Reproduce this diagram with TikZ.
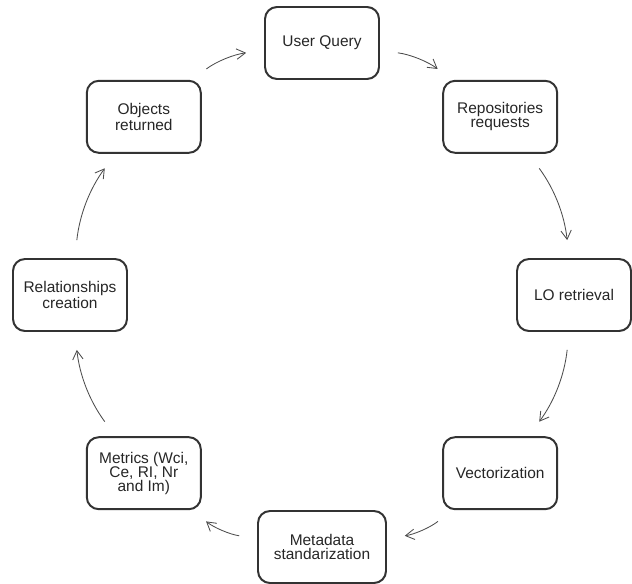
\documentclass[tikz,border=0pt]{standalone}
\usepackage{fontspec}
\setmainfont{Liberation Sans}
\usetikzlibrary{arrows.meta}

\begin{document}
\begin{tikzpicture}[
        stage/.style={draw=black!80, line width=1.4pt, rounded corners=0.3cm, minimum height=1.8cm, minimum width=2.85cm, inner xsep=0.2cm, align=center, text=black!85, font=\fontsize{11}{10}\selectfont},
        flow/.style={-{Straight Barb[length=2.2mm, width=2.6mm]}, draw=black!70, line width=0.6pt, bend left=15, shorten >=0.45cm, shorten <=0.45cm}
        ]
        \useasboundingbox (-8.05,-7.2) rectangle (7.75,7.375);

        % Nodes
        \node[stage] (query) at (90:6.3) {User Query};
        \node[stage] (repos) at (45:6.3) {Repositories\\ requests};
        \node[stage] (retrieval) at (0:6.3) {LO retrieval};
        \node[stage] (vector) at (-45:6.3) {Vectorization};
        \node[stage, minimum width=3.2cm] (metadata) at (-90:6.3) {Metadata\\ standarization};
        \node[stage] (metrics) at (-135:6.3) {Metrics (Wci,\\ Ce, RI, Nr\\ and Im)};
        \node[stage] (relations) at (180:6.3) {Relationships\\ creation};
        \node[stage] (objects) at (135:6.3) {Objects\\ returned};

        % Arrows
        \draw[flow] (query) to (repos);
        \draw[flow] (repos) to (retrieval);
        \draw[flow] (retrieval) to (vector);
        \draw[flow] (vector) to (metadata);
        \draw[flow] (metadata) to (metrics);
        \draw[flow] (metrics) to (relations);
        \draw[flow] (relations) to (objects);
        \draw[flow] (objects) to (query);

\end{tikzpicture}
\end{document}
